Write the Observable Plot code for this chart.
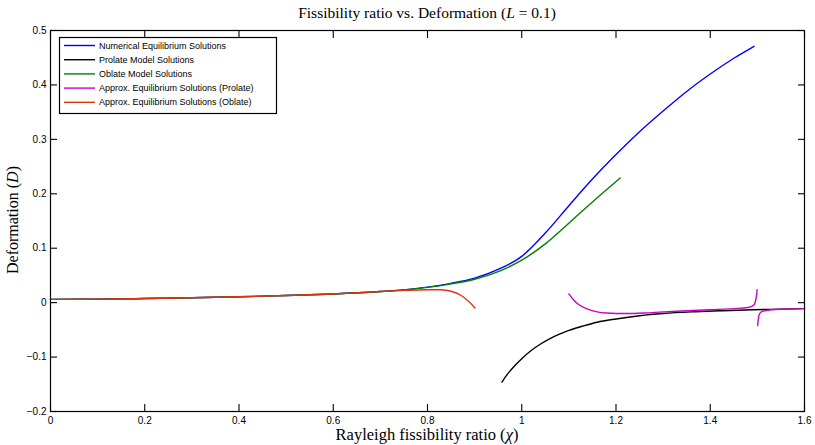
<!DOCTYPE html>
<html>
<head>
<meta charset="utf-8">
<script src="https://cdn.jsdelivr.net/npm/d3@7"></script>
<script src="https://cdn.jsdelivr.net/npm/@observablehq/plot@0.6"></script>
<style>
  html, body { margin: 0; padding: 0; background: white; }
</style>
</head>
<body>
<script>
// ---- Data ----
const numChi = [0, 0.1, 0.2, 0.3, 0.4, 0.5, 0.6, 0.7, 0.75, 0.8, 0.85, 0.9, 0.95, 1.0, 1.05, 1.1, 1.15, 1.2, 1.25, 1.3, 1.35, 1.4, 1.45, 1.493];
const numD   = [0.0060, 0.0065, 0.0075, 0.0090, 0.0108, 0.0130, 0.0160, 0.0205, 0.0235, 0.0285, 0.0355, 0.045, 0.061, 0.085, 0.128, 0.178, 0.227, 0.272, 0.314, 0.352, 0.388, 0.420, 0.449, 0.471];

const prolChi = [0.958, 0.97, 0.985, 1.0, 1.02, 1.04, 1.06, 1.08, 1.10, 1.13, 1.16, 1.2, 1.25, 1.3, 1.36, 1.42, 1.49, 1.55, 1.6];
const prolD   = [-0.146, -0.131, -0.116, -0.103, -0.088, -0.076, -0.066, -0.058, -0.051, -0.043, -0.036, -0.030, -0.024, -0.020, -0.017, -0.015, -0.013, -0.012, -0.011];

const oblChi = [0, 0.1, 0.2, 0.3, 0.4, 0.5, 0.6, 0.7, 0.75, 0.8, 0.85, 0.9, 0.95, 1.0, 1.05, 1.1, 1.15, 1.209];
const oblD   = [0.0060, 0.0065, 0.0075, 0.0090, 0.0108, 0.0130, 0.0160, 0.0205, 0.0235, 0.0280, 0.0345, 0.043, 0.057, 0.078, 0.108, 0.146, 0.185, 0.229];

const apProlChi = [1.10, 1.11, 1.12, 1.14, 1.16, 1.18, 1.22, 1.26, 1.30, 1.35, 1.40, 1.45, 1.48, 1.49, 1.495, 1.498, 1.4995,
                   1.5005, 1.502, 1.505, 1.51, 1.53, 1.56, 1.6];
const apProlD   = [0.016, 0.005, -0.003, -0.012, -0.017, -0.019, -0.020, -0.019, -0.017, -0.015, -0.013, -0.011, -0.009, -0.006, 0.000, 0.012, 0.024,
                   -0.042, -0.030, -0.020, -0.016, -0.013, -0.012, -0.011];
const apProlSeg = [1,1,1,1,1,1,1,1,1,1,1,1,1,1,1,1,1, 2,2,2,2,2,2,2];

const apOblChi = [0, 0.1, 0.2, 0.3, 0.4, 0.5, 0.6, 0.7, 0.75, 0.8, 0.827, 0.85, 0.87, 0.885, 0.897, 0.901];
const apOblD   = [0.0060, 0.0065, 0.0075, 0.0090, 0.0108, 0.0130, 0.0160, 0.0205, 0.0225, 0.0238, 0.0238, 0.021, 0.014, 0.004, -0.006, -0.010];

const seriesNames = [
  "Numerical Equilibrium Solutions",
  "Prolate Model Solutions",
  "Oblate Model Solutions",
  "Approx. Equilibrium Solutions (Prolate)",
  "Approx. Equilibrium Solutions (Oblate)"
];
const seriesColors = ["#0000ff", "#000000", "#008000", "#cc00cc", "#e0340f"];

const xTicks = [0, 0.2, 0.4, 0.6, 0.8, 1.0, 1.2, 1.4, 1.6];
const xTickLabels = ["0", "0.2", "0.4", "0.6", "0.8", "1", "1.2", "1.4", "1.6"];
const yTicks = [-0.2, -0.1, 0, 0.1, 0.2, 0.3, 0.4, 0.5];
const yTickLabels = ["\u22120.2", "\u22120.1", "0", "0.1", "0.2", "0.3", "0.4", "0.5"];

// ---- Build tables ----
const rows = (xs, ys, seg) => xs.map((x, i) => ({x, y: ys[i], seg: seg ? seg[i] : 1}));
const numData = rows(numChi, numD);
const prolData = rows(prolChi, prolD);
const oblData = rows(oblChi, oblD);
const apProlData = rows(apProlChi, apProlD, apProlSeg);
const apOblData = rows(apOblChi, apOblD);

const xFmt = d => xTickLabels[xTicks.findIndex(t => Math.abs(t - d) < 1e-9)];
const yFmt = d => yTickLabels[yTicks.findIndex(t => Math.abs(t - d) < 1e-9)];
const blank = () => "";

const W = 815, H = 445, mL = 50, mR = 11, mT = 30, mB = 34;
const tick = -7;
const lw = 1.4;
const chart = Plot.plot({
  width: W,
  height: H,
  marginLeft: mL,
  marginRight: mR,
  marginTop: mT,
  marginBottom: mB,
  x: {domain: [0, 1.6]},
  y: {domain: [-0.2, 0.5]},
  style: {fontFamily: "Liberation Sans, Arial, sans-serif", fontSize: "10px", color: "black", background: "white"},
  marks: [
    Plot.line(numData, {x: "x", y: "y", stroke: seriesColors[0], strokeWidth: lw, curve: "monotone-x"}),
    Plot.line(prolData, {x: "x", y: "y", stroke: seriesColors[1], strokeWidth: lw, curve: "monotone-x"}),
    Plot.line(oblData, {x: "x", y: "y", stroke: seriesColors[2], strokeWidth: lw, curve: "monotone-x"}),
    Plot.line(apProlData, {x: "x", y: "y", z: "seg", stroke: seriesColors[3], strokeWidth: lw, curve: "monotone-x"}),
    Plot.line(apOblData, {x: "x", y: "y", stroke: seriesColors[4], strokeWidth: lw, curve: "monotone-x"}),
    Plot.frame({stroke: "black", strokeWidth: 1.2}),
    // tick labels
    Plot.axisX(xTicks, {anchor: "bottom", tickSize: 0, tickPadding: 5, tickFormat: xFmt, label: null}),
    Plot.axisY(yTicks, {anchor: "left", tickSize: 0, tickPadding: 4, tickFormat: yFmt, label: null}),
    // inward ticks on all four sides
    Plot.axisX(xTicks, {anchor: "bottom", tickSize: tick, strokeWidth: 1.1, tickFormat: blank, label: null}),
    Plot.axisX(xTicks, {anchor: "top", tickSize: tick, strokeWidth: 1.1, tickFormat: blank, label: null}),
    Plot.axisY(yTicks, {anchor: "left", tickSize: tick, strokeWidth: 1.1, tickFormat: blank, label: null}),
    Plot.axisY(yTicks, {anchor: "right", tickSize: tick, strokeWidth: 1.1, tickFormat: blank, label: null})
  ]
});
document.body.appendChild(chart);

// ---- Title, axis labels, legend ----
const svg = d3.select(chart);
const serif = "'Liberation Serif', 'DejaVu Serif', serif";

const title = svg.append("text")
  .attr("x", 427).attr("y", 18)
  .attr("text-anchor", "middle")
  .attr("font-family", serif).attr("font-size", 15.5).attr("fill", "black");
title.append("tspan").text("Fissibility ratio vs. Deformation (");
title.append("tspan").attr("font-style", "italic").text("L");
title.append("tspan").text(" = 0.1)");

const xl = svg.append("text")
  .attr("x", 427).attr("y", 440)
  .attr("text-anchor", "middle")
  .attr("font-family", serif).attr("font-size", 16.5).attr("fill", "black");
xl.append("tspan").text("Rayleigh fissibility ratio (");
xl.append("tspan").attr("font-style", "italic").text("\u03c7");
xl.append("tspan").text(")");

const yl = svg.append("text")
  .attr("transform", "translate(18,220) rotate(-90)")
  .attr("text-anchor", "middle")
  .attr("font-family", serif).attr("font-size", 16).attr("fill", "black");
yl.append("tspan").text("Deformation (");
yl.append("tspan").attr("font-style", "italic").text("D");
yl.append("tspan").text(")");

const lg = svg.append("g")
  .attr("font-family", "'Liberation Sans', Arial, sans-serif")
  .attr("font-size", 9)
  .attr("text-anchor", "start");
lg.append("rect").attr("x", 59.5).attr("y", 37.5).attr("width", 217).attr("height", 76)
  .attr("fill", "white").attr("stroke", "black").attr("stroke-width", 1.2);
seriesNames.forEach((name, i) => {
  const yy = 45.5 + i * 14.2;
  lg.append("line").attr("x1", 64).attr("x2", 95).attr("y1", yy).attr("y2", yy)
    .attr("stroke", seriesColors[i]).attr("stroke-width", lw);
  lg.append("text").attr("x", 99).attr("y", yy).attr("dy", "0.35em")
    .attr("text-anchor", "start").attr("fill", "black").text(name);
});
</script>
</body>
</html>
